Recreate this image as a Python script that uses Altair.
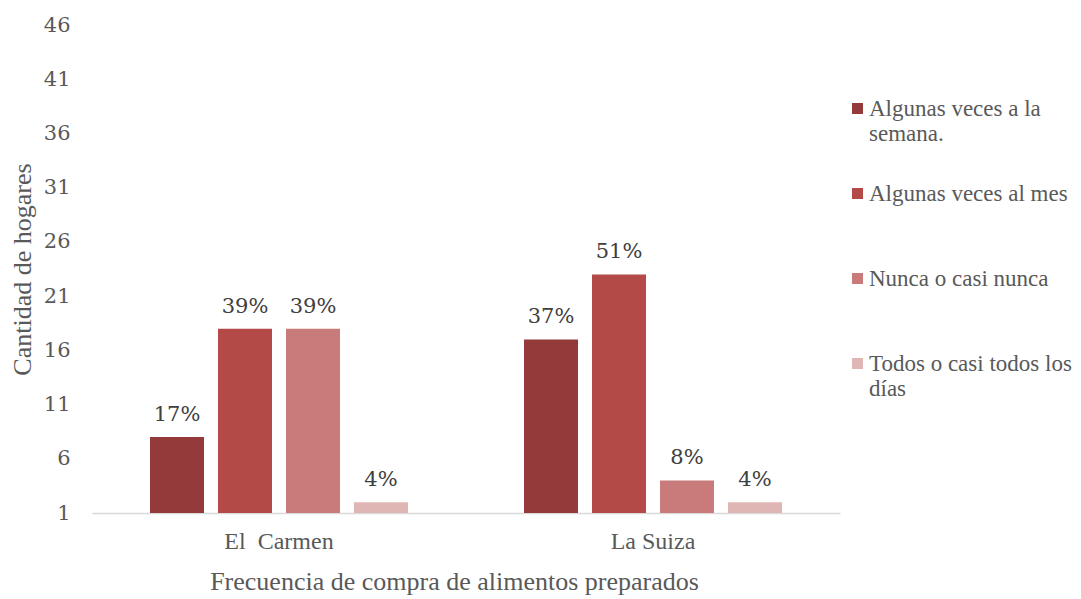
import altair as alt
import pandas as pd

sites = ["El\u00a0 Carmen", "La Suiza"]
categories = ["Algunas veces a la semana.", "Algunas veces al mes",
              "Nunca o casi nunca", "Todos o casi todos los días"]
values_carmen = [8, 18, 18, 2]
values_suiza = [17, 23, 4, 2]
labels_carmen = ["17%", "39%", "39%", "4%"]
labels_suiza = ["37%", "51%", "8%", "4%"]
colors = ["#943A3A", "#B34A48", "#C87B7A", "#E0B6B5"]
y_ticks = [1, 6, 11, 16, 21, 26, 31, 36, 41, 46]

rows = []
for site, vals, labs in [(sites[0], values_carmen, labels_carmen),
                         (sites[1], values_suiza, labels_suiza)]:
    for i, (c, v, l) in enumerate(zip(categories, vals, labs)):
        rows.append({"site": site, "cat": c, "order": i, "value": v, "label": l})
df = pd.DataFrame(rows)

x = alt.X("site:N", sort=sites, title="Frecuencia de compra de alimentos preparados",
          scale=alt.Scale(paddingInner=0, paddingOuter=0),
          axis=alt.Axis(labelAngle=0, ticks=False, domainColor="#D9D9D9", domainWidth=1.5,
                        labelFont="Liberation Serif", labelFontSize=24, labelColor="#595959",
                        labelPadding=16, titleFont="Liberation Serif", titleFontSize=26,
                        titleFontWeight="normal", titleColor="#595959", titlePadding=15,
                        titleX=362, titleAlign="center"))
xoff = alt.XOffset("cat:N", sort=categories,
                   scale=alt.Scale(paddingInner=0.206, paddingOuter=0.853))
y = alt.Y("value:Q", title="Cantidad de hogares",
          scale=alt.Scale(domain=[1, 46], zero=False, nice=False),
          axis=alt.Axis(values=y_ticks, grid=False, domain=False, ticks=False,
                        labelFont="DejaVu Serif", labelFontSize=21, labelColor="#595959",
                        labelPadding=22, titleFont="Liberation Serif", titleFontSize=26,
                        titleFontWeight="normal", titleColor="#595959", titlePadding=8))
color = alt.Color("cat:N", sort=categories, title=None,
                  scale=alt.Scale(domain=categories, range=colors),
                  legend=alt.Legend(orient="none", legendX=754, legendY=72,
                                    symbolType="square", symbolSize=121,
                                    symbolStrokeWidth=0, symbolOpacity=1,
                                    labelFont="Liberation Serif", labelFontSize=23,
                                    labelColor="#595959", labelLimit=400,
                                    labelExpr="datum.label == 'Algunas veces a la semana.' ? ['Algunas veces a la', 'semana.'] : datum.label == 'Todos o casi todos los días' ? ['Todos o casi todos los', 'días'] : [datum.label, '']",
                                    rowPadding=36, labelOffset=0))

bars = alt.Chart(df).mark_bar(opacity=1).encode(
    x=x, xOffset=xoff, y=y, y2=alt.datum(1), color=color)
text = alt.Chart(df).mark_text(baseline="bottom", dy=-12, font="DejaVu Serif",
                               fontSize=21, color="#404040").encode(
    x=alt.X("site:N", sort=sites), xOffset=alt.XOffset("cat:N", sort=categories),
    y=alt.Y("value:Q"), text="label:N")

chart = alt.layer(bars, text).properties(
    width=748, height=488,
    background="white",
    autosize=alt.AutoSizeParams(type="none"),
    padding={"left": 84, "top": 17, "right": 233, "bottom": 84},
).configure_view(stroke=None)

chart.save("out.html", embed_options={"renderer": "svg", "actions": False})
